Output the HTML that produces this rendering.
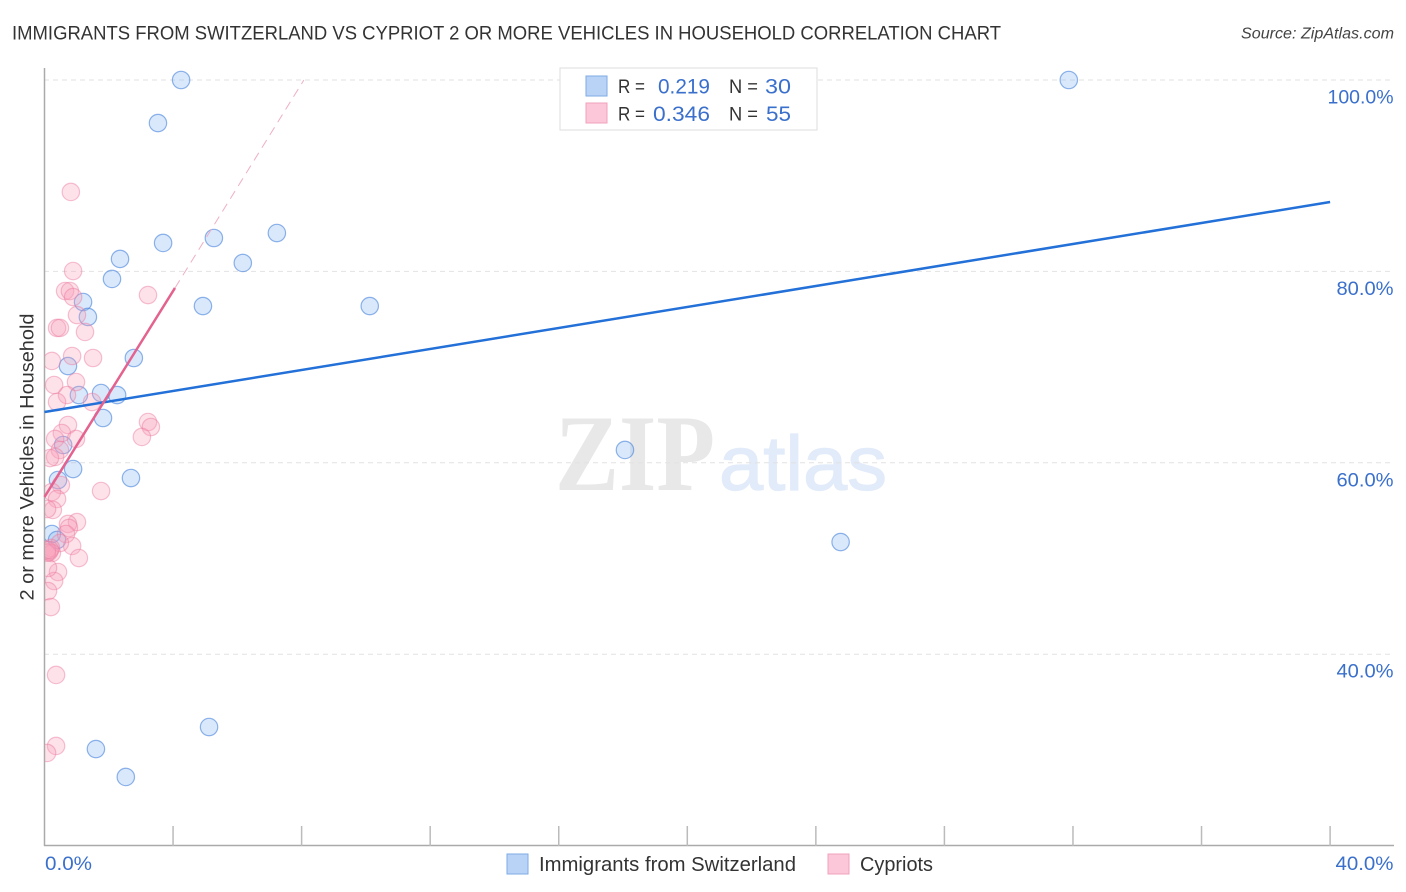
<!DOCTYPE html>
<html lang="en">
<head>
<meta charset="utf-8">
<title>Immigrants from Switzerland vs Cypriot 2 or more Vehicles in Household Correlation Chart</title>
<style>
html,body{margin:0;padding:0;background:#fff;width:1406px;height:892px;overflow:hidden}
svg{display:block;font-family:"Liberation Sans",sans-serif}
</style>
</head>
<body>
<svg id="chart" xmlns="http://www.w3.org/2000/svg" width="1406" height="892" viewBox="0 0 1406 892">
  <defs>
    <clipPath id="plot-clip"><rect x="45" y="60" width="1350" height="786"/></clipPath>
  </defs>
  <rect x="0" y="0" width="1406" height="892" fill="#fff"/>
  <text x="12" y="39.5" font-size="19.5" fill="#333" textLength="989" lengthAdjust="spacingAndGlyphs">IMMIGRANTS FROM SWITZERLAND VS CYPRIOT 2 OR MORE VEHICLES IN HOUSEHOLD CORRELATION CHART</text>
  <text x="1394" y="38.5" font-size="15.5" font-style="italic" fill="#444" text-anchor="end" textLength="153" lengthAdjust="spacingAndGlyphs">Source: ZipAtlas.com</text>
  <g>
    <text x="555" y="490" font-family="'Liberation Serif',serif" font-size="109" font-weight="bold" fill="#e8e8e8" textLength="160" lengthAdjust="spacingAndGlyphs">ZIP</text>
    <text x="719" y="490" font-size="77" fill="#e2ebf9" stroke="#e2ebf9" stroke-width="1.2" textLength="168" lengthAdjust="spacingAndGlyphs">atlas</text>
  </g>
  <g id="grid"></g>
  <g id="axes"></g>
  <g id="ticklabels"></g>
  <g id="points" clip-path="url(#plot-clip)"></g>
  <g id="lines"></g>
  <text transform="translate(33.5,457) rotate(-90)" font-size="19.5" fill="#333" text-anchor="middle" textLength="287" lengthAdjust="spacingAndGlyphs">2 or more Vehicles in Household</text>

  <g>
    <rect x="560" y="68" width="257" height="62" fill="#fff" stroke="#ddd" stroke-width="1"/>
    <rect x="586" y="76" width="21" height="20" fill="#b9d3f7" stroke="#7eabe6" stroke-width="1"/>
    <rect x="586" y="103" width="21" height="20" fill="#fcc8d9" stroke="#f0a0bc" stroke-width="1"/>
    <text x="618" y="93" font-size="19" fill="#333" textLength="27" lengthAdjust="spacingAndGlyphs">R =</text>
    <text x="658" y="93.5" font-size="21" fill="#3a70cc" textLength="52" lengthAdjust="spacingAndGlyphs">0.219</text>
    <text x="729" y="93" font-size="19" fill="#333" textLength="29" lengthAdjust="spacingAndGlyphs">N =</text>
    <text x="765" y="93.5" font-size="21" fill="#3a70cc" textLength="26" lengthAdjust="spacingAndGlyphs">30</text>
    <text x="618" y="120.5" font-size="19" fill="#333" textLength="27" lengthAdjust="spacingAndGlyphs">R =</text>
    <text x="653" y="121" font-size="21" fill="#3a70cc" textLength="57" lengthAdjust="spacingAndGlyphs">0.346</text>
    <text x="729" y="120.5" font-size="19" fill="#333" textLength="29" lengthAdjust="spacingAndGlyphs">N =</text>
    <text x="766" y="121" font-size="21" fill="#3a70cc" textLength="25" lengthAdjust="spacingAndGlyphs">55</text>
  </g>

  <g>
    <g>
      <rect x="507" y="854" width="21" height="20" fill="#b9d3f7" stroke="#7eabe6" stroke-width="1"/>
      <text x="539" y="871" font-size="20" fill="#333" textLength="257" lengthAdjust="spacingAndGlyphs">Immigrants from Switzerland</text>
    </g>
    <g>
      <rect x="828" y="854" width="21" height="20" fill="#fcc8d9" stroke="#f0a0bc" stroke-width="1"/>
      <text x="860" y="871" font-size="20" fill="#333" textLength="73" lengthAdjust="spacingAndGlyphs">Cypriots</text>
    </g>
  </g>
</svg>
<script>
// Chart data (percent values)
const blueX = [4.25,3.53,31.87,3.69,5.27,7.23,6.17,2.35,2.10,1.20,1.35,4.93,10.12,2.78,0.73,1.76,2.26,1.07,1.82,0.58,0.89,0.42,2.69,18.06,24.77,0.23,0.39,5.12,1.60,2.53];
const blueY = [100,95.5,100,82.97,83.49,84.01,80.88,81.30,79.21,76.80,75.24,76.38,76.38,70.95,70.11,67.29,67.08,67.08,64.68,61.86,59.35,58.20,58.41,61.34,51.72,52.56,51.93,32.39,30.09,27.17];
const pinkX = [0.82,0.89,0.64,0.79,0.89,3.22,1.01,1.26,0.39,0.48,0.86,1.51,0.23,0.98,0.30,1.48,0.70,0.39,0.73,0.54,0.98,0.33,3.22,3.31,3.03,0.48,0.33,0.17,0.51,1.76,0.23,0.39,0.26,0.08,1.01,0.73,0.76,0.67,0.86,0.48,0.20,0.14,0.23,1.07,0.42,0.30,0.11,0.20,0.36,0.36,0.08,0.11,0.08,0.08,0.17];
const pinkY = [88.30,80.04,77.95,77.95,77.32,77.53,75.44,73.67,74.09,74.09,71.16,70.95,70.64,68.44,68.13,66.35,67.08,66.35,63.95,63.11,62.49,62.49,64.26,63.74,62.70,61.34,60.61,60.50,57.68,57.05,56.95,56.22,55.07,55.17,53.81,53.61,53.19,52.56,51.31,51.62,51.10,50.68,50.57,50.05,48.59,47.65,46.60,44.93,37.83,30.41,29.68,49.01,50.89,50.6,50.9];
const blueTrendX = [0,40];
const blueTrendY = [65.31,87.25];
const pinkTrendX = [0,4.06];
const pinkTrendY = [56.43,78.27];
const pinkDashX = [4.06,8.07];
const pinkDashY = [78.27,100];
const yGridValues = [100,80,60,40];
const yTickLabels = ["100.0%","80.0%","60.0%","40.0%"];
const xTickValues = [4,8,12,16,20,24,28,32,36,40];
const xEndValues = [0,40];
const xEndLabels = ["0.0%","40.0%"];

const NS = 'http://www.w3.org/2000/svg';
const xScale = v => 44.5 + v * 32.14;
const yScale = v => 80 + (100 - v) * 9.57;

function make(tag, parent, attrs, text) {
  const el = document.createElementNS(NS, tag);
  for (const k in attrs) el.setAttribute(k, attrs[k]);
  if (text !== undefined) el.textContent = text;
  parent.appendChild(el);
  return el;
}

const grid = document.getElementById('grid');
yGridValues.forEach(function (v) {
  const el = make('line', grid, {x1: 44, x2: 1394, y1: yScale(v), y2: yScale(v), stroke: '#e2e2e2', 'stroke-width': 1, 'stroke-dasharray': '5 4'});
  
  
});

const axes = document.getElementById('axes');
const yAxis = make('line', axes, {x1: 44.5, x2: 44.5, y1: 68, y2: 846, stroke: '#aaa', 'stroke-width': 1.5});


const xAxis = make('line', axes, {x1: 44, x2: 1394, y1: 845.5, y2: 845.5, stroke: '#aaa', 'stroke-width': 1.5});


xTickValues.forEach(function (v) {
  const el = make('line', axes, {x1: xScale(v), x2: xScale(v), y1: 826, y2: 846, stroke: '#bbb', 'stroke-width': 1.5});
  
  
});

const labels = document.getElementById('ticklabels');
const yLabelWidths = [66, 57, 57, 57];
yTickLabels.forEach(function (t, i) {
  const el = make('text', labels, {x: 1393.5, y: yScale(yGridValues[i]) + 23.5, 'font-size': 19, fill: '#3a70cc', 'text-anchor': 'end', textLength: yLabelWidths[i], lengthAdjust: 'spacingAndGlyphs'}, t);
  
  
});
xEndLabels.forEach(function (t, i) {
  const isLast = i === xEndLabels.length - 1;
  const el = make('text', labels, {x: isLast ? 1393.5 : xScale(xEndValues[i]) + 0.5, y: 870, 'font-size': 19, fill: '#3a70cc', 'text-anchor': isLast ? 'end' : 'start', textLength: isLast ? 58 : 47, lengthAdjust: 'spacingAndGlyphs'}, t);
  
  
});

const points = document.getElementById('points');
blueX.forEach(function (v, i) {
  const el = make('circle', points, {cx: xScale(v), cy: yScale(blueY[i]), r: 8.7, fill: 'rgba(130,178,240,0.3)', stroke: 'rgba(70,130,220,0.6)', 'stroke-width': 1.2});
  
  
});
pinkX.forEach(function (v, i) {
  const el = make('circle', points, {cx: xScale(v), cy: yScale(pinkY[i]), r: 8.7, fill: 'rgba(248,160,186,0.3)', stroke: 'rgba(236,120,158,0.45)', 'stroke-width': 1.2});
  
  
});

const lines = document.getElementById('lines');
const blueLine = make('line', lines, {x1: xScale(blueTrendX[0]), y1: yScale(blueTrendY[0]), x2: xScale(blueTrendX[1]), y2: yScale(blueTrendY[1]), stroke: '#2270d8', 'stroke-width': 2.5});


const pinkLine = make('line', lines, {x1: xScale(pinkTrendX[0]), y1: yScale(pinkTrendY[0]), x2: xScale(pinkTrendX[1]), y2: yScale(pinkTrendY[1]), stroke: '#e4628f', 'stroke-width': 2.5});


const pinkDash = make('line', lines, {x1: xScale(pinkDashX[0]), y1: yScale(pinkDashY[0]), x2: xScale(pinkDashX[1]), y2: yScale(pinkDashY[1]), stroke: '#eeb0c6', 'stroke-width': 1, 'stroke-dasharray': '9 6'});


</script>
</body>
</html>
